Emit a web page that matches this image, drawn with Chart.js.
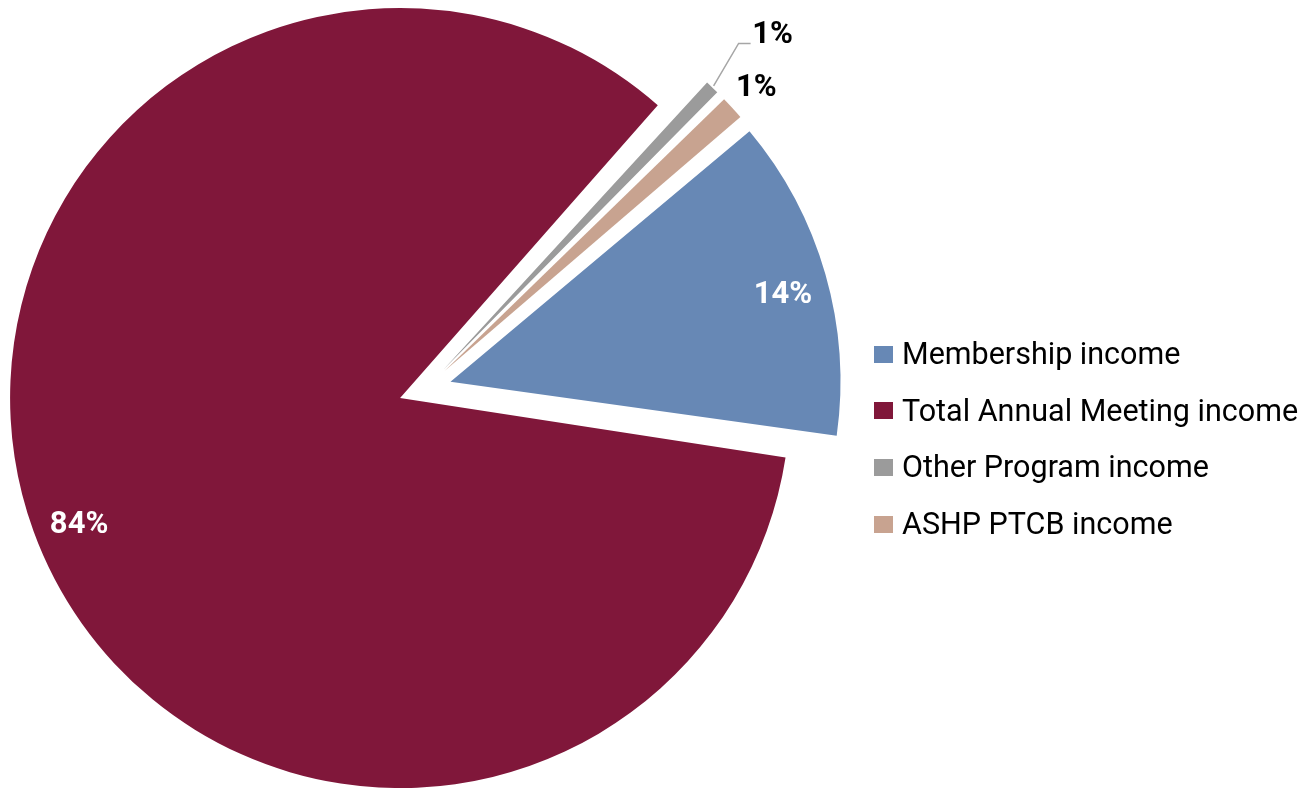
<!DOCTYPE html>
<html>
<head>
<meta charset="utf-8">
<title>Income breakdown</title>
<script src="https://cdn.jsdelivr.net/npm/chart.js@4.4.0/dist/chart.umd.min.js"></script>
<style>
  html, body { margin: 0; padding: 0; background: #fff; }
  #wrap { position: relative; width: 1314px; height: 788px; }
  #legend { position: absolute; left: 874px; top: 337px; font-family: Roboto, sans-serif; font-size: 30.5px; line-height: 34px; color: #000; }
  .item { height: 56.7px; display: flex; align-items: flex-start; }
  .row { display: flex; align-items: center; height: 34px; white-space: nowrap; }
  .box { width: 19px; height: 17px; margin-right: 9px; }
</style>
</head>
<body>
<div id="wrap">
  <canvas id="pie" width="1314" height="788"></canvas>
  <div id="legend"></div>
</div>
<script>
// data (percent of total income)
var labels = ['Membership income', 'Total Annual Meeting income', 'Other Program income', 'ASHP PTCB income'];
var values = [13.4, 84.4, 0.9, 1.3];
var pctLabels = ['14%', '84%', '1%', '1%'];

var colors = ['#6788B5', '#80173A', '#9B9B9B', '#C8A390'];
var labelColors = ['#fff', '#fff', '#000', '#000'];
var labelDist = [0.882, 0.883, 1.208, 1.083];   // fraction of radius from slice tip
var labelTurn = [1.15, -1.3, 0.75, 0];          // degrees off the slice middle
var leader = [false, false, true, false];

var RADIUS = 390;
var OFFSET = 106;   // chart.js moves a slice by offset/4

// keep every exploded slice at the same visible radius
var evenRadius = {
    id: 'evenRadius',
    afterDatasetUpdate: function(chart) {
        var meta = chart.getDatasetMeta(0);
        meta.data.forEach(function(arc) {
            var fix = 1 - Math.sin(Math.min(Math.PI, arc.circumference));
            arc.outerRadius = RADIUS - (OFFSET / 4) * fix;
        });
    }
};

var sliceLabels = {
    id: 'sliceLabels',
    afterDatasetsDraw: function(chart) {
        var ctx = chart.ctx;
        var meta = chart.getDatasetMeta(0);
        ctx.save();
        ctx.font = 'bold 31px Roboto';
        ctx.textAlign = 'center';
        ctx.textBaseline = 'middle';
        meta.data.forEach(function(arc, i) {
            var mid = (arc.startAngle + arc.endAngle) / 2;
            var tipX = arc.x + Math.cos(mid) * OFFSET / 4;
            var tipY = arc.y + Math.sin(mid) * OFFSET / 4;
            var a = mid + labelTurn[i] * Math.PI / 180;
            var px = tipX + Math.cos(a) * RADIUS * labelDist[i];
            var py = tipY + Math.sin(a) * RADIUS * labelDist[i];
            if (leader[i]) {
                ctx.strokeStyle = '#A6A6A6';
                ctx.lineWidth = 1.5;
                ctx.beginPath();
                ctx.moveTo(tipX + Math.cos(mid) * (RADIUS + 2), tipY + Math.sin(mid) * (RADIUS + 2));
                ctx.lineTo(px - 34, py + 10.5);
                ctx.lineTo(px - 22, py + 10.5);
                ctx.stroke();
            }
            ctx.fillStyle = labelColors[i];
            ctx.fillText(pctLabels[i], px, py + 2);
        });
        ctx.restore();
    }
};

var ctx = document.getElementById('pie').getContext('2d');
var pie = new Chart(ctx, {
    type: 'pie',
    data: {
        labels: labels,
        datasets: [{
            data: values,
            backgroundColor: colors,
            borderWidth: 0,
            offset: OFFSET,
            clip: false
        }]
    },
    options: {
        responsive: false,
        animation: false,
        events: [],
        rotation: 49.9,
        radius: RADIUS,
        layout: { padding: { left: 0, top: 0, right: 464, bottom: 10 } },
        plugins: {
            legend: { display: false },
            tooltip: { enabled: false }
        }
    },
    plugins: [evenRadius, sliceLabels]
});

// legend
var legend = document.getElementById('legend');
labels.forEach(function(name, i) {
    var item = document.createElement('div');
    item.className = 'item';
    item.innerHTML = '<div class="row"><div class="box" style="background:' + colors[i] + '"></div><span>' + name + '</span></div>';
    legend.appendChild(item);
});
</script>
</body>
</html>
